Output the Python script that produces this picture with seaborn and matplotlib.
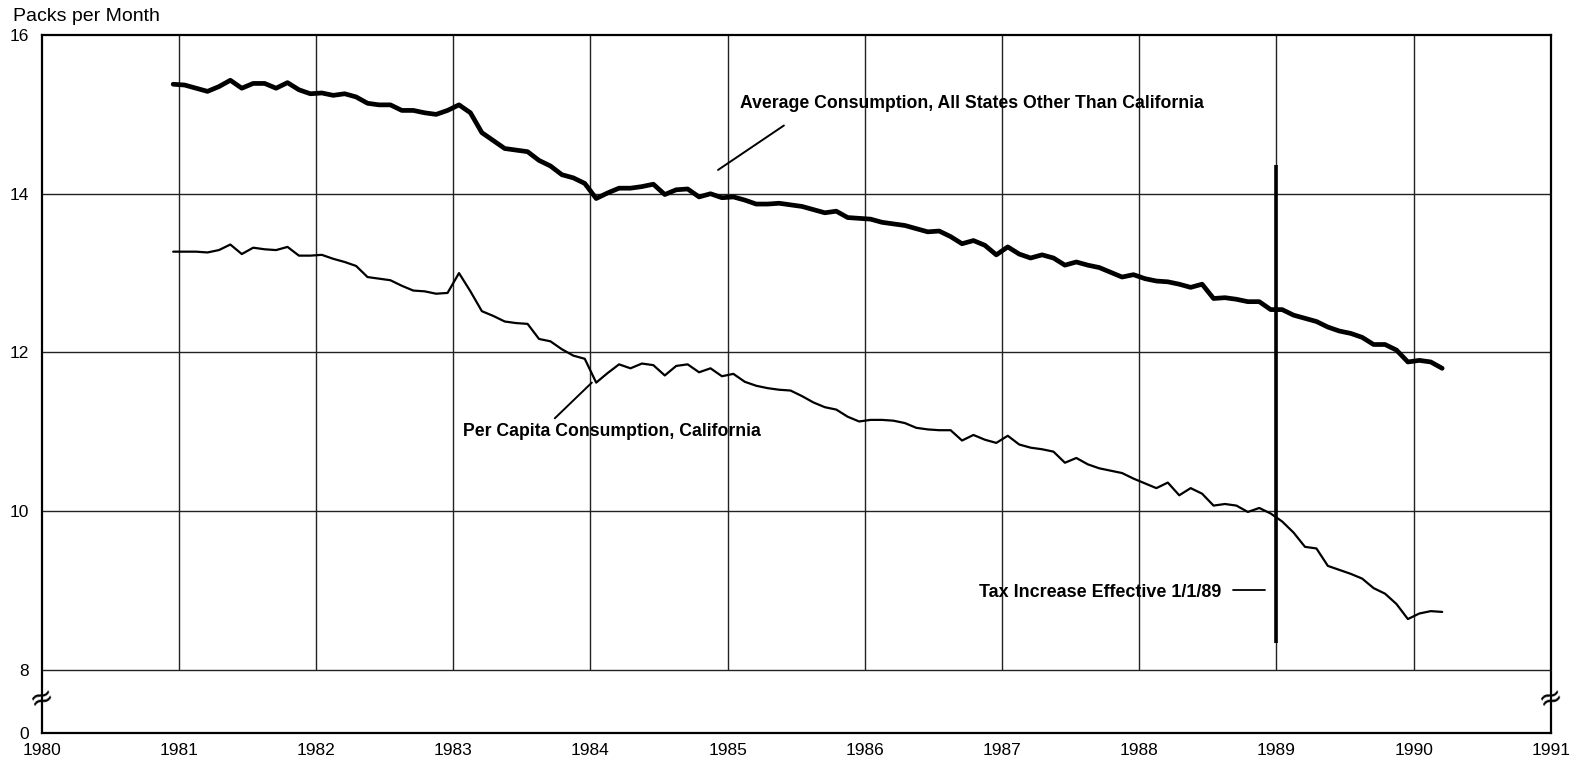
import numpy as np
import pandas as pd
import matplotlib
matplotlib.use('Agg')
import matplotlib.pyplot as plt
import matplotlib.transforms as mtransforms
import seaborn as sns

# Monthly cigarette consumption, Jan 1981 - Apr 1990 (packs per month)
other_states = [
    15.38, 15.37, 15.33, 15.29, 15.35, 15.43, 15.33, 15.39, 15.39, 15.33, 15.40, 15.31,  # 1981
    15.26, 15.27, 15.24, 15.26, 15.22, 15.14, 15.12, 15.12, 15.05, 15.05, 15.02, 15.00,  # 1982
    15.05, 15.12, 15.02, 14.77, 14.67, 14.57, 14.55, 14.53, 14.42, 14.35, 14.24, 14.20,  # 1983
    14.13, 13.94, 14.01, 14.07, 14.07, 14.09, 14.12, 13.99, 14.05, 14.06, 13.96, 14.00,  # 1984
    13.95, 13.96, 13.92, 13.87, 13.87, 13.88, 13.86, 13.84, 13.80, 13.76, 13.78, 13.70,  # 1985
    13.69, 13.68, 13.64, 13.62, 13.60, 13.56, 13.52, 13.53, 13.46, 13.37, 13.41, 13.35,  # 1986
    13.23, 13.33, 13.24, 13.19, 13.23, 13.19, 13.10, 13.14, 13.10, 13.07, 13.01, 12.95,  # 1987
    12.98, 12.93, 12.90, 12.89, 12.86, 12.82, 12.86, 12.68, 12.69, 12.67, 12.64, 12.64,  # 1988
    12.54, 12.54, 12.47, 12.43, 12.39, 12.32, 12.27, 12.24, 12.19, 12.10, 12.10, 12.03,  # 1989
    11.88, 11.90, 11.88, 11.80,                                                          # 1990
]
california = [
    13.27, 13.27, 13.27, 13.26, 13.29, 13.36, 13.24, 13.32, 13.30, 13.29, 13.33, 13.22,  # 1981
    13.22, 13.23, 13.18, 13.14, 13.09, 12.95, 12.93, 12.91, 12.84, 12.78, 12.77, 12.74,  # 1982
    12.75, 13.00, 12.77, 12.52, 12.46, 12.39, 12.37, 12.36, 12.17, 12.14, 12.04, 11.96,  # 1983
    11.92, 11.62, 11.74, 11.85, 11.80, 11.86, 11.84, 11.71, 11.83, 11.85, 11.75, 11.80,  # 1984
    11.70, 11.73, 11.63, 11.58, 11.55, 11.53, 11.52, 11.45, 11.37, 11.31, 11.28, 11.19,  # 1985
    11.13, 11.15, 11.15, 11.14, 11.11, 11.05, 11.03, 11.02, 11.02, 10.89, 10.96, 10.90,  # 1986
    10.86, 10.95, 10.84, 10.80, 10.78, 10.75, 10.61, 10.67, 10.59, 10.54, 10.51, 10.48,  # 1987
    10.41, 10.35, 10.29, 10.36, 10.20, 10.29, 10.22, 10.07, 10.09, 10.07, 9.99, 10.04,   # 1988
    9.97, 9.87, 9.73, 9.55, 9.53, 9.31, 9.26, 9.21, 9.15, 9.03, 8.96, 8.83,              # 1989
    8.64, 8.71, 8.74, 8.73,                                                              # 1990
]

year_ticks = list(range(1980, 1992))
year_labels = [str(y) for y in year_ticks]
y_ticks = [8, 10, 12, 14, 16]
y_labels = ['8', '10', '12', '14', '16']
Y_ZERO = 7.2  # where the broken axis puts "0"

months = pd.date_range('1981-01-01', periods=len(other_states), freq='MS')
t = months.year + (months.month - 1) / 12 - 1 / 24
df = pd.DataFrame({'t': t, 'other': other_states, 'ca': california})

sns.set_theme(style='white')
plt.rcParams['font.family'] = ['Liberation Sans', 'DejaVu Sans']
plt.rcParams['text.color'] = 'black'

fig = plt.figure(figsize=(15.86, 7.65), dpi=100)
ax = fig.add_axes([0.0263, 0.0414, 0.9515, 0.9128])

# grid only in the 8-16 region
ax.vlines(year_ticks[1:-1], 8, 16, color='#222222', lw=1.0, zorder=1)
ax.hlines(y_ticks[:-1], 1980, 1991, color='#222222', lw=1.0, zorder=1)

sns.lineplot(data=df, x='t', y='other', color='black', lw=3.4, ax=ax, zorder=3)
sns.lineplot(data=df, x='t', y='ca', color='black', lw=1.6, ax=ax, zorder=3)

ax.set_xlim(1980, 1991)
ax.set_ylim(Y_ZERO, 16)
ax.set_xticks(year_ticks)
ax.set_xticklabels(year_labels)
ax.set_yticks([Y_ZERO] + y_ticks)
ax.set_yticklabels(['0'] + y_labels)
ax.tick_params(axis='both', direction='out', length=5, width=1.2, colors='black')
ax.tick_params(axis='x', labelsize=12.5, pad=2)
ax.tick_params(axis='y', labelsize=12.5, pad=4)
ax.set_xlabel('')
ax.set_ylabel('')
for s in ax.spines.values():
    s.set_visible(True)
    s.set_color('black')
    s.set_linewidth(1.6)

# axis break marks
trans = mtransforms.blended_transform_factory(ax.transAxes, ax.transData)
for xb in (0, 1):
    ax.text(xb, 7.65, '\u2248', transform=trans, ha='center', va='center',
            fontsize=21, rotation=20, family='DejaVu Sans', zorder=5)

# tax increase marker
ax.vlines(1989, 8.34, 14.36, color='black', lw=2.6, zorder=4)
ax.plot([1988.68, 1988.92], [9.0, 9.0], color='black', lw=1.3)
ax.text(1988.60, 8.98, 'Tax Increase Effective 1/1/89', ha='right', va='center',
        fontsize=12.9, fontweight='bold')

# series labels with leader lines
ax.text(1985.09, 15.14, 'Average Consumption, All States Other Than California',
        ha='left', va='center', fontsize=12.7, fontweight='bold')
ax.plot([1985.41, 1984.93], [14.86, 14.30], color='black', lw=1.4)
ax.text(1983.07, 11.0, 'Per Capita Consumption, California',
        ha='left', va='center', fontsize=12.7, fontweight='bold')
ax.plot([1983.74, 1984.01], [11.17, 11.62], color='black', lw=1.4)

fig.text(0.0082, 0.979, 'Packs per Month', fontsize=14, ha='left', va='center')

fig.savefig('out.png', dpi=100)
